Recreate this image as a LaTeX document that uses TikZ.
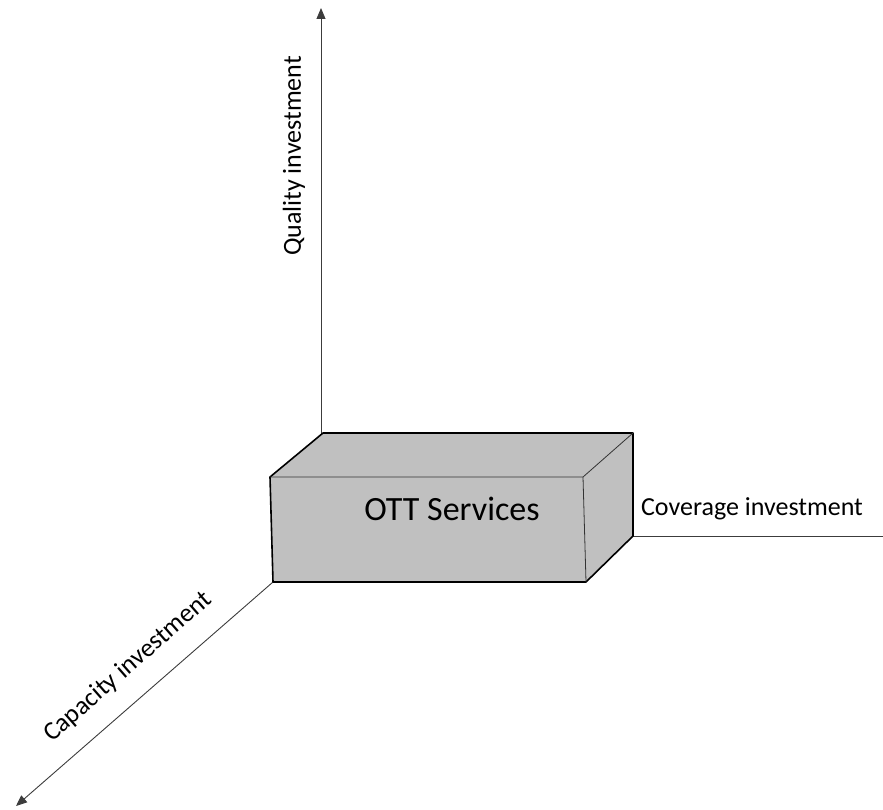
\documentclass[tikz,border=0pt]{standalone}
\usepackage{fontspec}
\setmainfont{Carlito}
\usetikzlibrary{arrows.meta}
\definecolor{boxgray}{RGB}{192,192,192}
\definecolor{axisgray}{RGB}{60,60,60}
\tikzset{
  axis/.style={draw=axisgray, line width=0.9pt},
  axisarrow/.style={axis, -{Triangle[length=11pt,width=9pt]}},
  boxline/.style={draw=black, line width=1.6pt, line join=round, fill=boxgray},
  edge/.style={draw=black!80, line width=0.8pt},
  lbl/.style={inner sep=0pt, font=\fontsize{26}{31}\selectfont}
}
\begin{document}
\begin{tikzpicture}[x=1pt,y=-1pt]
\useasboundingbox (0,0) rectangle (883,810);
% box corners
\coordinate (FTL) at (270,477);
\coordinate (FBL) at (273,582);
\coordinate (FTR) at (583,477);
\coordinate (FBR) at (586,582);
\coordinate (BTL) at (323,433);
\coordinate (BTR) at (633,433);
\coordinate (BBR) at (633,536);
% axis ends
\coordinate (qtop) at (321,8);
\coordinate (cright) at (883,536);
\coordinate (capend) at (16,806);
% axes
\draw[axisarrow] (BTL) -- (321,433) -- (qtop);
\draw[axis] (BBR) -- (cright);
\draw[axisarrow] (FBL) -- (capend);
% box
\draw[boxline] (FTL) -- (BTL) -- (BTR) -- (BBR) -- (FBR) -- (FBL) -- cycle;
\draw[edge] (FTL) -- (FTR) -- (BTR);
\draw[edge] (FTR) -- (FBR);
% labels
\node[lbl, font=\fontsize{34}{40}\selectfont] (ott) at (452,509) {OTT Services};
\node[lbl] (cov) at (752,509) {Coverage investment};
\node[lbl, rotate=90] (qual) at (294,156) {Quality investment};
\node[lbl, rotate=41.2] (cap) at (128,667) {Capacity investment};
\end{tikzpicture}
\end{document}
